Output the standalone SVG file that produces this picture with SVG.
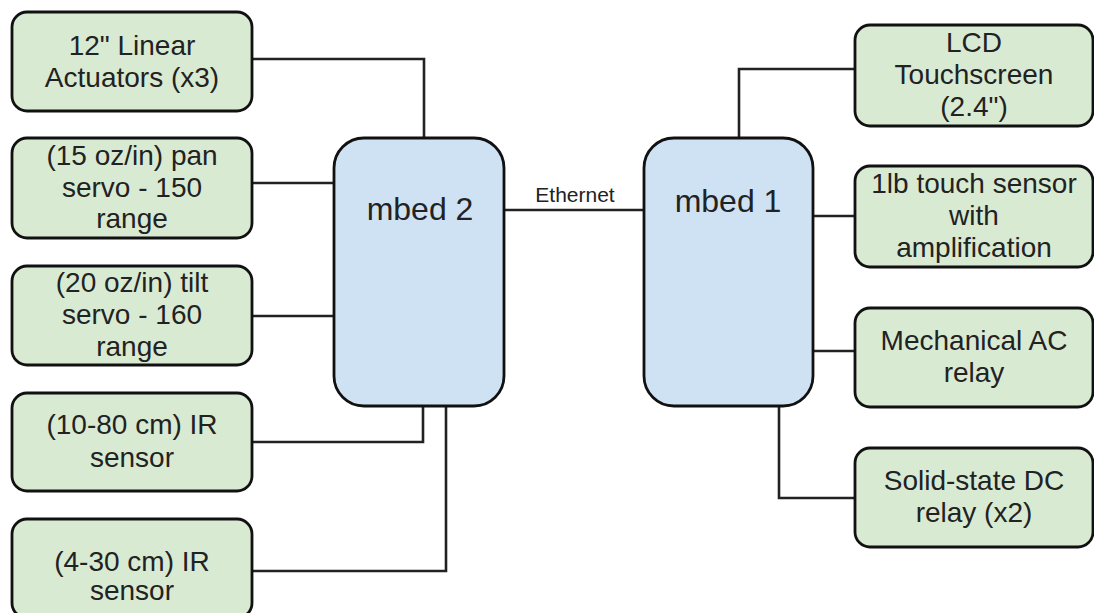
<svg xmlns="http://www.w3.org/2000/svg" width="1094" height="613" viewBox="0 0 1094 613">
<style>
.leaf{fill:#d9ead3;stroke:#111;stroke-width:2.8}
.mcu{fill:#cfe2f3;stroke:#111;stroke-width:2.8}
.t{font-family:"Liberation Sans",Arial,sans-serif;font-size:28px;fill:#222;text-anchor:middle}
.tb{font-family:"Liberation Sans",Arial,sans-serif;font-size:32px;fill:#222;text-anchor:middle}
.te{font-family:"Liberation Sans",Arial,sans-serif;font-size:21px;fill:#222;text-anchor:middle}
.c{fill:none;stroke:#222;stroke-width:2.6}
</style>
<rect width="1094" height="613" fill="#fff"/>
<g id="connectors">
<polyline class="c" points="252,59 424,59 424,138"/>
<line class="c" x1="252" y1="183" x2="334" y2="183"/>
<line class="c" x1="252" y1="316" x2="334" y2="316"/>
<polyline class="c" points="252,442 423,442 423,406"/>
<polyline class="c" points="252,571 446,571 446,406"/>
<line class="c" x1="504" y1="210" x2="644" y2="210"/>
<polyline class="c" points="739,138 739,69 855,69"/>
<line class="c" x1="813" y1="216" x2="855" y2="216"/>
<line class="c" x1="813" y1="351" x2="855" y2="351"/>
<polyline class="c" points="779,406 779,498 855,498"/>
<text class="te" x="575" y="202">Ethernet</text>
</g>
<g id="mbed2">
<rect class="mcu" x="334" y="138" width="170" height="268" rx="30"/>
<text class="tb" x="420" y="220">mbed 2</text>
</g>
<g id="mbed1">
<rect class="mcu" x="644" y="138" width="169" height="268" rx="30"/>
<text class="tb" x="728" y="212">mbed 1</text>
</g>
<g id="actuators">
<rect class="leaf" x="12" y="12" width="240" height="99" rx="15"/>
<text class="t" x="132" y="55">12" Linear</text>
<text class="t" x="132" y="87">Actuators (x3)</text>
</g>
<g id="pan-servo">
<rect class="leaf" x="12" y="138" width="240" height="100" rx="15"/>
<text class="t" x="132" y="165">(15 oz/in) pan</text>
<text class="t" x="132" y="197">servo - 150</text>
<text class="t" x="132" y="228">range</text>
</g>
<g id="tilt-servo">
<rect class="leaf" x="12" y="266" width="240" height="99" rx="15"/>
<text class="t" x="132" y="292">(20 oz/in) tilt</text>
<text class="t" x="132" y="324">servo - 160</text>
<text class="t" x="132" y="356">range</text>
</g>
<g id="ir-10-80">
<rect class="leaf" x="12" y="393" width="240" height="98" rx="15"/>
<text class="t" x="132" y="434">(10-80 cm) IR</text>
<text class="t" x="132" y="467">sensor</text>
</g>
<g id="ir-4-30">
<rect class="leaf" x="12" y="519" width="240" height="99" rx="15"/>
<text class="t" x="132" y="571">(4-30 cm) IR</text>
<text class="t" x="132" y="600">sensor</text>
</g>
<g id="lcd">
<rect class="leaf" x="855" y="25" width="238" height="101" rx="15"/>
<text class="t" x="974" y="52">LCD</text>
<text class="t" x="974" y="84">Touchscreen</text>
<text class="t" x="974" y="116">(2.4")</text>
</g>
<g id="touch-sensor">
<rect class="leaf" x="855" y="166" width="238" height="101" rx="15"/>
<text class="t" x="974" y="193">1lb touch sensor</text>
<text class="t" x="974" y="225">with</text>
<text class="t" x="974" y="257">amplification</text>
</g>
<g id="ac-relay">
<rect class="leaf" x="855" y="308" width="238" height="99" rx="15"/>
<text class="t" x="974" y="350">Mechanical AC</text>
<text class="t" x="974" y="382">relay</text>
</g>
<g id="dc-relay">
<rect class="leaf" x="855" y="448" width="238" height="99" rx="15"/>
<text class="t" x="974" y="490">Solid-state DC</text>
<text class="t" x="974" y="522">relay (x2)</text>
</g>
</svg>
